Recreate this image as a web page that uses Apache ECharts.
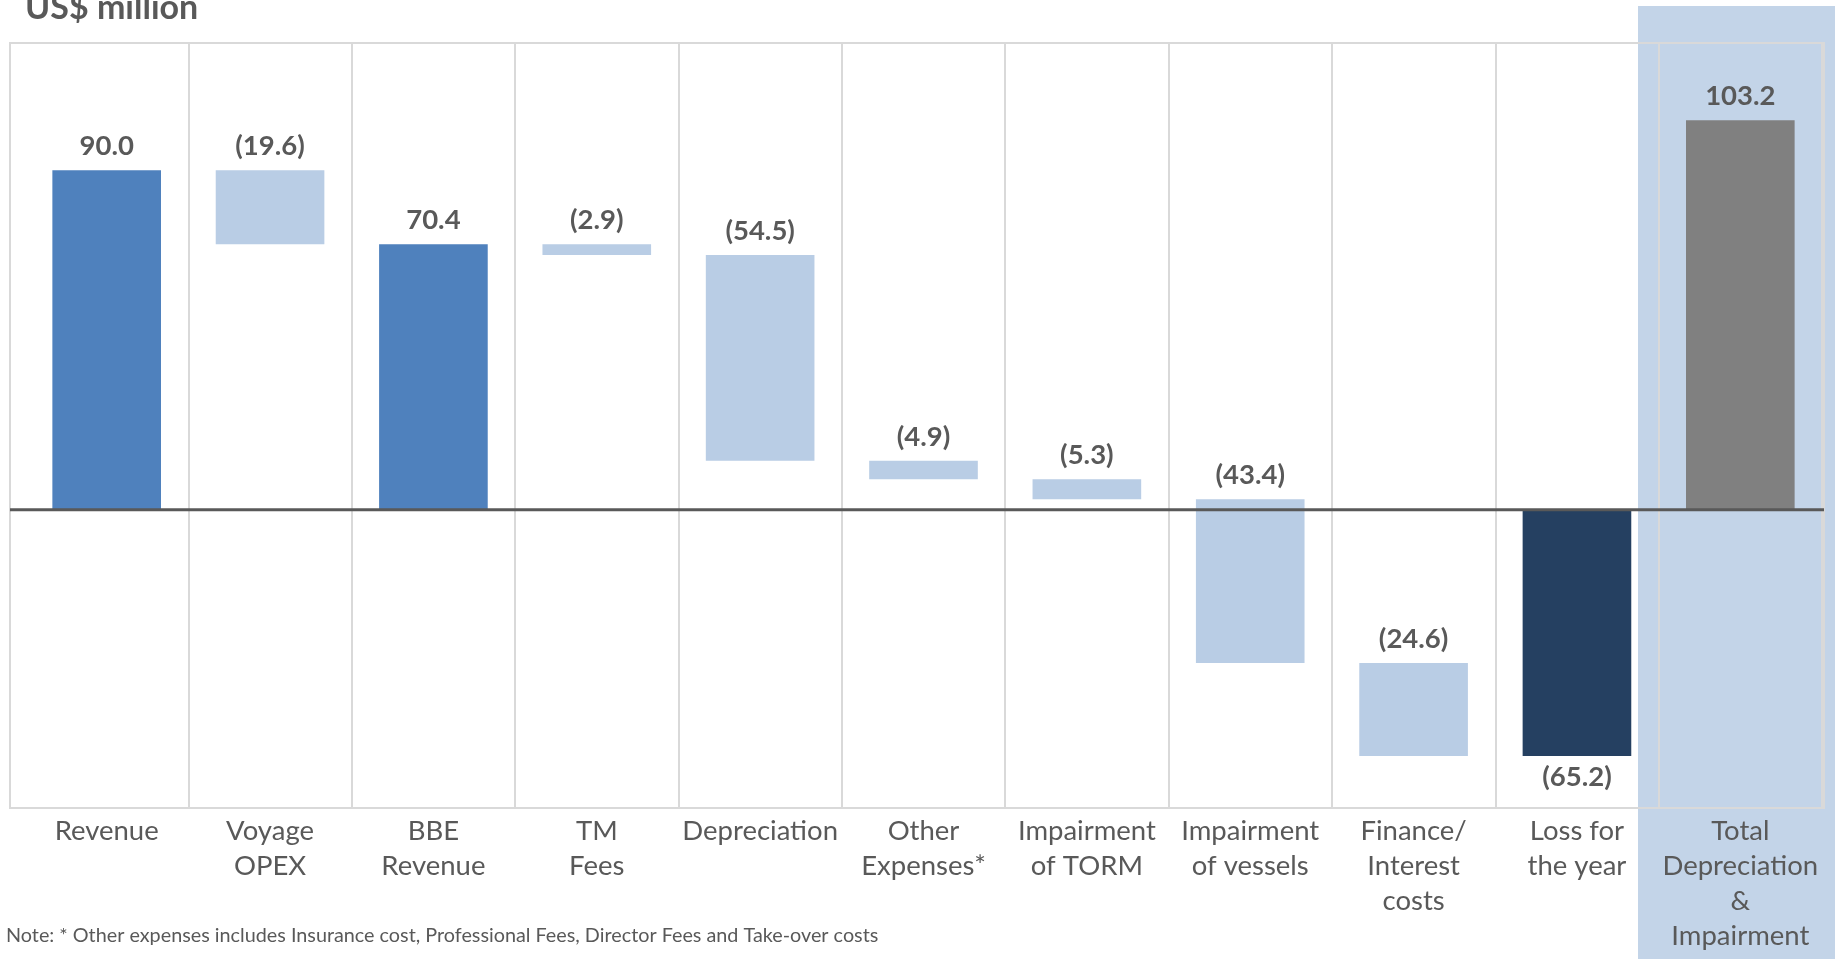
<!DOCTYPE html>
<html>
<head>
<meta charset="utf-8">
<script src="https://cdn.jsdelivr.net/npm/echarts@6/dist/echarts.min.js"></script>
<style>
  html, body { margin: 0; padding: 0; background: #ffffff; }
  #chart { width: 1835px; height: 959px; }
</style>
</head>
<body>
<div id="chart"></div>
<script>
// Profit bridge, US$ million
const categories = [
  'Revenue', 'Voyage\nOPEX', 'BBE\nRevenue', 'TM\nFees', 'Depreciation',
  'Other\nExpenses*', 'Impairment\nof TORM', 'Impairment\nof vessels',
  'Finance/\nInterest\ncosts', 'Loss for\nthe year', 'Total\nDepreciation\n&\nImpairment'
];
const amounts = [90.0, -19.6, 70.4, -2.9, -54.5, -4.9, -5.3, -43.4, -24.6, -65.2, 103.2];
// total: starts from zero and resets the running level; step: floats from the running level;
// result: closing figure; memo: stand-alone figure
const barKinds = ['total', 'step', 'total', 'step', 'step', 'step', 'step', 'step', 'step', 'result', 'memo'];
const noteText = 'Note: * Other expenses includes Insurance cost, Professional Fees, Director Fees and Take-over costs';

const kindColors = { total: '#4F81BD', step: '#B9CDE5', result: '#254061', memo: '#808080' };
const textColor = '#595959';
const fontFamily = 'Lato, "Open Sans", sans-serif';

// floating ranges for each bar
let level = 0;
const bridgeData = amounts.map((v, i) => {
  const kind = barKinds[i];
  let from, to;
  if (kind === 'step') { from = level; level += v; to = level; }
  else { from = 0; to = v; if (kind === 'total') level = v; }
  return [i, from, to, v];
});

const fmt = v => v < 0 ? '(' + Math.abs(v).toFixed(1) + ')' : v.toFixed(1);

const chart = echarts.init(document.getElementById('chart'));

chart.setOption({
  animation: false,
  backgroundColor: 'transparent',
  grid: { left: 25, right: 13, top: 43, bottom: 151 },
  xAxis: {
    type: 'category',
    data: categories,
    axisLine: { show: false },
    axisTick: { show: false },
    splitLine: {
      show: true,
      // the left edge is covered by the outer frame
      interval: function (index) { return index !== 0; },
      lineStyle: { color: '#D9D9D9', width: 2 }
    },
    axisLabel: {
      interval: 0, margin: 6, color: textColor, fontFamily: fontFamily,
      fontSize: 27.5, lineHeight: 35
    }
  },
  yAxis: { type: 'value', min: -79, max: 123.7, show: false },
  series: [{
    type: 'custom',
    data: bridgeData,
    encode: { x: 0, y: [1, 2] },
    renderItem: function (params, api) {
      const idx = api.value(0);
      const from = api.value(1), to = api.value(2), v = api.value(3);
      const kind = barKinds[idx];
      const top = api.coord([idx, Math.max(from, to)]);
      const bottom = api.coord([idx, Math.min(from, to)]);
      const w = api.size([1, 0])[0] * 0.665;
      const below = kind === 'result';
      return {
        type: 'group',
        children: [{
          type: 'rect',
          shape: { x: top[0] - w / 2, y: top[1], width: w, height: bottom[1] - top[1] },
          style: { fill: kindColors[kind] }
        }, {
          type: 'text',
          style: {
            text: fmt(v),
            x: top[0],
            y: below ? bottom[1] + 21 : top[1] - 24,
            textAlign: 'center',
            textVerticalAlign: 'middle',
            font: 'bold 27.5px ' + fontFamily,
            fill: textColor
          }
        }]
      };
    }
  }]
});

// frame, highlight panel, zero line and texts
const y0 = chart.convertToPixel({ yAxisIndex: 0 }, 0);
chart.setOption({
  graphic: [
    { type: 'rect', id: 'panel', z: -10, shape: { x: 1638, y: 6, width: 197, height: 953 }, style: { fill: '#C3D4E8' } },
    { type: 'rect', id: 'frame', z: 1, shape: { x: 10, y: 43, width: 1814, height: 765 }, style: { fill: 'none', stroke: '#D9D9D9', lineWidth: 2 } },
    { type: 'line', id: 'zero', z: 100, shape: { x1: 10, y1: y0, x2: 1824, y2: y0 }, style: { stroke: '#595959', lineWidth: 3 } },
    { type: 'text', id: 'unit', z: 100, left: 25, top: -9, style: { text: 'US$ million', font: 'bold 34px ' + fontFamily, fill: textColor } },
    { type: 'text', id: 'note', z: 100, left: 6, top: 926, style: { text: noteText, font: '19.8px ' + fontFamily, fill: textColor } }
  ]
});
</script>
</body>
</html>
